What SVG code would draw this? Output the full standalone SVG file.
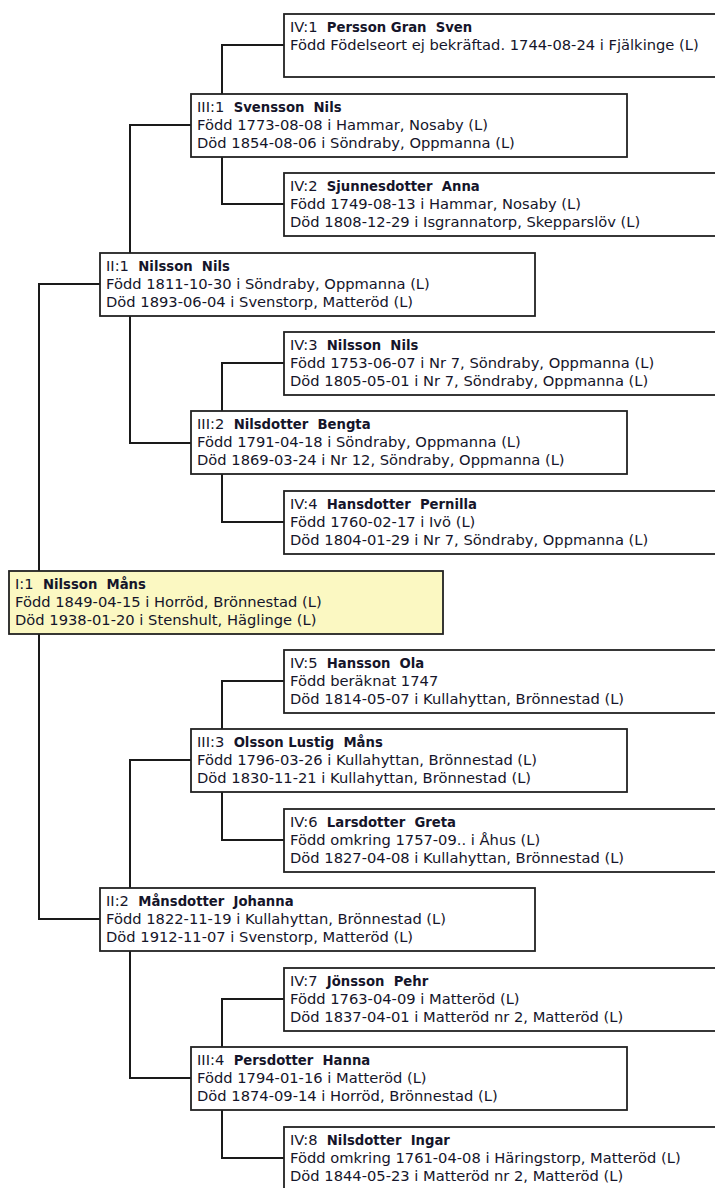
<svg xmlns="http://www.w3.org/2000/svg" width="715" height="1188" viewBox="0 0 715 1188">
<style>
.box{fill:#fff;stroke:#222;stroke-width:1.8}
.root{fill:#fbf8c2;stroke:#222;stroke-width:1.8}
.t{font-family:"DejaVu Sans","Liberation Sans",sans-serif;font-size:14.7px;fill:#15152a}
.b{font-family:"DejaVu Sans Condensed","DejaVu Sans",sans-serif;font-stretch:condensed;font-weight:bold}
.c{fill:none;stroke:#1a1a1a;stroke-width:2}
</style>
<rect width="715" height="1188" fill="#fff"/>
<g id="connectors">
<path class="c" d="M100,284 H39 V571 M39,634 V919 H100"/>
<path class="c" d="M191,125 H130 V253 M130,316 V443 H191"/>
<path class="c" d="M191,760 H130 V888 M130,951 V1078 H191"/>
<path class="c" d="M284,45 H222 V94 M222,157 V204 H284"/>
<path class="c" d="M284,363 H222 V411 M222,474 V522 H284"/>
<path class="c" d="M284,681 H222 V729 M222,792 V840 H284"/>
<path class="c" d="M284,999 H222 V1047 M222,1110 V1158 H284"/>
</g>
<g id="IV1"><rect class="box" x="284" y="14" width="440" height="63"/>
<text class="t" x="290" y="32" xml:space="preserve">IV:1  <tspan class="b">Persson Gran  Sven</tspan></text>
<text class="t" x="290" y="50">Född Födelseort ej bekräftad. 1744-08-24 i Fjälkinge (L)</text></g>
<g id="III1"><rect class="box" x="191" y="94" width="436" height="63"/>
<text class="t" x="197" y="112" xml:space="preserve">III:1  <tspan class="b">Svensson  Nils</tspan></text>
<text class="t" x="197" y="130">Född 1773-08-08 i Hammar, Nosaby (L)</text>
<text class="t" x="197" y="148">Död 1854-08-06 i Söndraby, Oppmanna (L)</text></g>
<g id="IV2"><rect class="box" x="284" y="173" width="440" height="63"/>
<text class="t" x="290" y="191" xml:space="preserve">IV:2  <tspan class="b">Sjunnesdotter  Anna</tspan></text>
<text class="t" x="290" y="209">Född 1749-08-13 i Hammar, Nosaby (L)</text>
<text class="t" x="290" y="227">Död 1808-12-29 i Isgrannatorp, Skepparslöv (L)</text></g>
<g id="II1"><rect class="box" x="100" y="253" width="435" height="63"/>
<text class="t" x="106" y="271" xml:space="preserve">II:1  <tspan class="b">Nilsson  Nils</tspan></text>
<text class="t" x="106" y="289">Född 1811-10-30 i Söndraby, Oppmanna (L)</text>
<text class="t" x="106" y="307">Död 1893-06-04 i Svenstorp, Matteröd (L)</text></g>
<g id="IV3"><rect class="box" x="284" y="332" width="440" height="63"/>
<text class="t" x="290" y="350" xml:space="preserve">IV:3  <tspan class="b">Nilsson  Nils</tspan></text>
<text class="t" x="290" y="368">Född 1753-06-07 i Nr 7, Söndraby, Oppmanna (L)</text>
<text class="t" x="290" y="386">Död 1805-05-01 i Nr 7, Söndraby, Oppmanna (L)</text></g>
<g id="III2"><rect class="box" x="191" y="411" width="436" height="63"/>
<text class="t" x="197" y="429" xml:space="preserve">III:2  <tspan class="b">Nilsdotter  Bengta</tspan></text>
<text class="t" x="197" y="447">Född 1791-04-18 i Söndraby, Oppmanna (L)</text>
<text class="t" x="197" y="465">Död 1869-03-24 i Nr 12, Söndraby, Oppmanna (L)</text></g>
<g id="IV4"><rect class="box" x="284" y="491" width="440" height="63"/>
<text class="t" x="290" y="509" xml:space="preserve">IV:4  <tspan class="b">Hansdotter  Pernilla</tspan></text>
<text class="t" x="290" y="527">Född 1760-02-17 i Ivö (L)</text>
<text class="t" x="290" y="545">Död 1804-01-29 i Nr 7, Söndraby, Oppmanna (L)</text></g>
<g id="I1"><rect class="root" x="9" y="571" width="434" height="63"/>
<text class="t" x="15" y="589" xml:space="preserve">I:1  <tspan class="b">Nilsson  Måns</tspan></text>
<text class="t" x="15" y="607">Född 1849-04-15 i Horröd, Brönnestad (L)</text>
<text class="t" x="15" y="625">Död 1938-01-20 i Stenshult, Häglinge (L)</text></g>
<g id="IV5"><rect class="box" x="284" y="650" width="440" height="63"/>
<text class="t" x="290" y="668" xml:space="preserve">IV:5  <tspan class="b">Hansson  Ola</tspan></text>
<text class="t" x="290" y="686">Född beräknat 1747</text>
<text class="t" x="290" y="704">Död 1814-05-07 i Kullahyttan, Brönnestad (L)</text></g>
<g id="III3"><rect class="box" x="191" y="729" width="436" height="63"/>
<text class="t" x="197" y="747" xml:space="preserve">III:3  <tspan class="b">Olsson Lustig  Måns</tspan></text>
<text class="t" x="197" y="765">Född 1796-03-26 i Kullahyttan, Brönnestad (L)</text>
<text class="t" x="197" y="783">Död 1830-11-21 i Kullahyttan, Brönnestad (L)</text></g>
<g id="IV6"><rect class="box" x="284" y="809" width="440" height="63"/>
<text class="t" x="290" y="827" xml:space="preserve">IV:6  <tspan class="b">Larsdotter  Greta</tspan></text>
<text class="t" x="290" y="845">Född omkring 1757-09.. i Åhus (L)</text>
<text class="t" x="290" y="863">Död 1827-04-08 i Kullahyttan, Brönnestad (L)</text></g>
<g id="II2"><rect class="box" x="100" y="888" width="435" height="63"/>
<text class="t" x="106" y="906" xml:space="preserve">II:2  <tspan class="b">Månsdotter  Johanna</tspan></text>
<text class="t" x="106" y="924">Född 1822-11-19 i Kullahyttan, Brönnestad (L)</text>
<text class="t" x="106" y="942">Död 1912-11-07 i Svenstorp, Matteröd (L)</text></g>
<g id="IV7"><rect class="box" x="284" y="968" width="440" height="63"/>
<text class="t" x="290" y="986" xml:space="preserve">IV:7  <tspan class="b">Jönsson  Pehr</tspan></text>
<text class="t" x="290" y="1004">Född 1763-04-09 i Matteröd (L)</text>
<text class="t" x="290" y="1022">Död 1837-04-01 i Matteröd nr 2, Matteröd (L)</text></g>
<g id="III4"><rect class="box" x="191" y="1047" width="436" height="63"/>
<text class="t" x="197" y="1065" xml:space="preserve">III:4  <tspan class="b">Persdotter  Hanna</tspan></text>
<text class="t" x="197" y="1083">Född 1794-01-16 i Matteröd (L)</text>
<text class="t" x="197" y="1101">Död 1874-09-14 i Horröd, Brönnestad (L)</text></g>
<g id="IV8"><rect class="box" x="284" y="1127" width="440" height="63"/>
<text class="t" x="290" y="1145" xml:space="preserve">IV:8  <tspan class="b">Nilsdotter  Ingar</tspan></text>
<text class="t" x="290" y="1163">Född omkring 1761-04-08 i Häringstorp, Matteröd (L)</text>
<text class="t" x="290" y="1181">Död 1844-05-23 i Matteröd nr 2, Matteröd (L)</text></g>
</svg>
